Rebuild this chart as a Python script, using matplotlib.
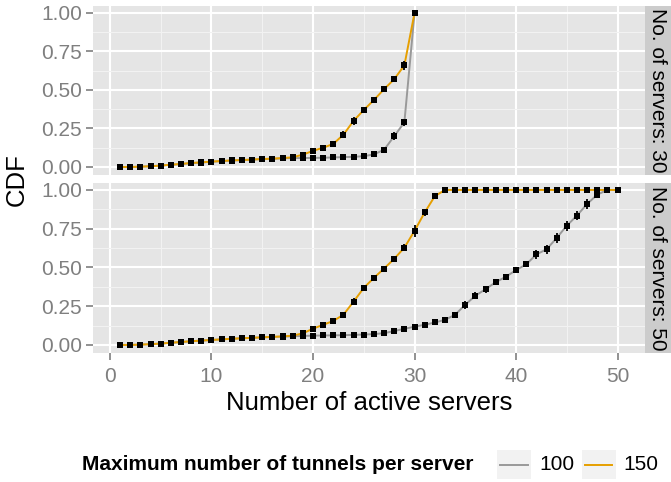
import numpy as np
import matplotlib.pyplot as plt
from matplotlib.ticker import MultipleLocator, FixedLocator
from matplotlib.lines import Line2D

plt.rcParams['font.family'] = ['Liberation Sans', 'DejaVu Sans']

# CDF of the number of active servers, per pool size and tunnel limit
x30 = list(range(1, 31))
cdf30_100 = [0.000, 0.000, 0.002, 0.005, 0.009, 0.014, 0.019, 0.025, 0.029, 0.034,
             0.038, 0.042, 0.045, 0.048, 0.051, 0.053, 0.056, 0.058, 0.058, 0.059,
             0.060, 0.062, 0.064, 0.066, 0.070, 0.082, 0.112, 0.200, 0.290, 1.000]
err30_100 = [0.0, 0.0, 0.002, 0.002, 0.003, 0.003, 0.004, 0.004, 0.004, 0.004,
             0.004, 0.004, 0.004, 0.004, 0.004, 0.004, 0.004, 0.004, 0.004, 0.004,
             0.004, 0.004, 0.004, 0.005, 0.005, 0.006, 0.008, 0.025, 0.022, 0.0]
cdf30_150 = [0.000, 0.000, 0.002, 0.005, 0.009, 0.015, 0.020, 0.026, 0.030, 0.035,
             0.039, 0.043, 0.045, 0.048, 0.052, 0.054, 0.058, 0.063, 0.080, 0.105,
             0.125, 0.150, 0.210, 0.300, 0.370, 0.435, 0.505, 0.570, 0.660, 1.000]
err30_150 = [0.0, 0.0, 0.002, 0.003, 0.003, 0.004, 0.005, 0.005, 0.005, 0.005,
             0.005, 0.005, 0.005, 0.005, 0.005, 0.005, 0.006, 0.006, 0.014, 0.010,
             0.010, 0.012, 0.022, 0.025, 0.020, 0.018, 0.020, 0.020, 0.028, 0.0]

x50 = list(range(1, 51))
cdf50_100 = [0.000, 0.000, 0.002, 0.005, 0.009, 0.014, 0.019, 0.024, 0.028, 0.032,
             0.036, 0.040, 0.043, 0.046, 0.049, 0.052, 0.054, 0.056, 0.058, 0.060,
             0.061, 0.062, 0.063, 0.065, 0.067, 0.070, 0.076, 0.090, 0.104, 0.118,
             0.130, 0.145, 0.162, 0.195, 0.260, 0.318, 0.360, 0.405, 0.440, 0.483,
             0.520, 0.584, 0.617, 0.690, 0.770, 0.835, 0.910, 0.970, 1.000, 1.000]
err50_100 = [0.0, 0.0, 0.002, 0.002, 0.003, 0.003, 0.004, 0.004, 0.004, 0.004,
             0.004, 0.004, 0.004, 0.004, 0.004, 0.004, 0.004, 0.004, 0.004, 0.004,
             0.004, 0.004, 0.004, 0.004, 0.005, 0.005, 0.006, 0.008, 0.008, 0.008,
             0.008, 0.008, 0.010, 0.012, 0.025, 0.022, 0.022, 0.016, 0.016, 0.014,
             0.016, 0.028, 0.028, 0.032, 0.032, 0.028, 0.032, 0.022, 0.0, 0.0]
cdf50_150 = [0.000, 0.000, 0.002, 0.005, 0.009, 0.014, 0.019, 0.024, 0.028, 0.032,
             0.036, 0.040, 0.043, 0.046, 0.049, 0.052, 0.055, 0.060, 0.075, 0.105,
             0.130, 0.155, 0.195, 0.280, 0.368, 0.433, 0.493, 0.556, 0.628, 0.736,
             0.855, 0.960] + [1.000] * 18
err50_150 = [0.0, 0.0, 0.002, 0.003, 0.003, 0.004, 0.005, 0.005, 0.005, 0.005,
             0.005, 0.005, 0.005, 0.005, 0.005, 0.005, 0.006, 0.006, 0.014, 0.010,
             0.010, 0.010, 0.014, 0.022, 0.016, 0.016, 0.014, 0.016, 0.022, 0.038,
             0.022, 0.016] + [0.0] * 18

panels = [
    ("No. of servers: 30", x30, cdf30_100, err30_100, cdf30_150, err30_150),
    ("No. of servers: 50", x50, cdf50_100, err50_100, cdf50_150, err50_150),
]

GREY = '#999999'
ORANGE = '#E69F00'
TEXT_GREY = '#7F7F7F'

W, H = 671, 482
fig = plt.figure(figsize=(W / 100, H / 100), dpi=100)

left, right = 93, 645
rows = [(6, 175), (183, 353)]

for i, (strip, x, c100, e100, c150, e150) in enumerate(panels):
    top, bot = rows[i]
    ax = fig.add_axes([left / W, 1 - bot / H, (right - left) / W, (bot - top) / H])
    ax.set_facecolor('#E5E5E5')
    for s in ax.spines.values():
        s.set_visible(False)

    ax.plot(x, c100, color=GREY, lw=1.4, zorder=2)
    ax.plot(x, c150, color=ORANGE, lw=1.4, zorder=2)
    for c, e in ((c100, e100), (c150, e150)):
        ax.errorbar(x, c, yerr=e, fmt='s', color='black', ms=4.2, mew=0,
                    elinewidth=1.3, capsize=2.4, capthick=1.3, zorder=3)

    ax.set_xlim(-1.67, 52.7)
    ax.set_ylim(-0.052, 1.045)
    ax.xaxis.set_major_locator(MultipleLocator(10))
    ax.xaxis.set_minor_locator(FixedLocator([5, 15, 25, 35, 45]))
    ax.yaxis.set_major_locator(MultipleLocator(0.25))
    ax.yaxis.set_minor_locator(FixedLocator([0.125, 0.375, 0.625, 0.875]))
    ax.grid(which='major', color='white', lw=1.5)
    ax.grid(which='minor', color='#F2F2F2', lw=0.8)
    ax.set_axisbelow(True)
    ax.set_yticklabels([f"{v:.2f}" for v in ax.get_yticks()])
    ax.tick_params(which='major', length=5, width=1.2, color=TEXT_GREY,
                   labelcolor=TEXT_GREY, labelsize=15, pad=3)
    ax.tick_params(axis='x', which='major', pad=5)
    ax.tick_params(which='minor', length=0)
    if i == 0:
        ax.tick_params(axis='x', which='both', length=0, labelbottom=False)
    else:
        ax.set_xlabel("Number of active servers", fontsize=18.5, labelpad=4)

    sax = fig.add_axes([right / W, 1 - bot / H, (W - right) / W, (bot - top) / H])
    sax.set_facecolor('#CCCCCC')
    sax.set_xticks([])
    sax.set_yticks([])
    for s in sax.spines.values():
        s.set_visible(False)
    sax.text(0.5, 0.5, strip, rotation=270, ha='center', va='center',
             fontsize=15, transform=sax.transAxes)

fig.text(17 / W, 1 - 180 / H, "CDF", rotation=90, ha='center', va='center',
         fontsize=18.5)

# legend along the bottom
ly = 1 - 465 / H
fig.text(82 / W, ly, "Maximum number of tunnels per server", ha='left',
         va='center', fontsize=15, fontweight='bold')
keys = [("100", GREY, 497), ("150", ORANGE, 581.5)]
for label, col, kx in keys:
    kax = fig.add_axes([kx / W, 1 - 479 / H, 34 / W, 29 / H])
    kax.set_facecolor('#F2F2F2')
    kax.set_xticks([])
    kax.set_yticks([])
    for s in kax.spines.values():
        s.set_visible(False)
    kax.set_xlim(0, 1)
    kax.set_ylim(0, 1)
    kax.add_line(Line2D([0.1, 0.9], [0.5, 0.5], color=col, lw=1.4))
    fig.text((kx + 42) / W, ly, label, ha='left', va='center', fontsize=15)

fig.savefig("out.png", dpi=100)
